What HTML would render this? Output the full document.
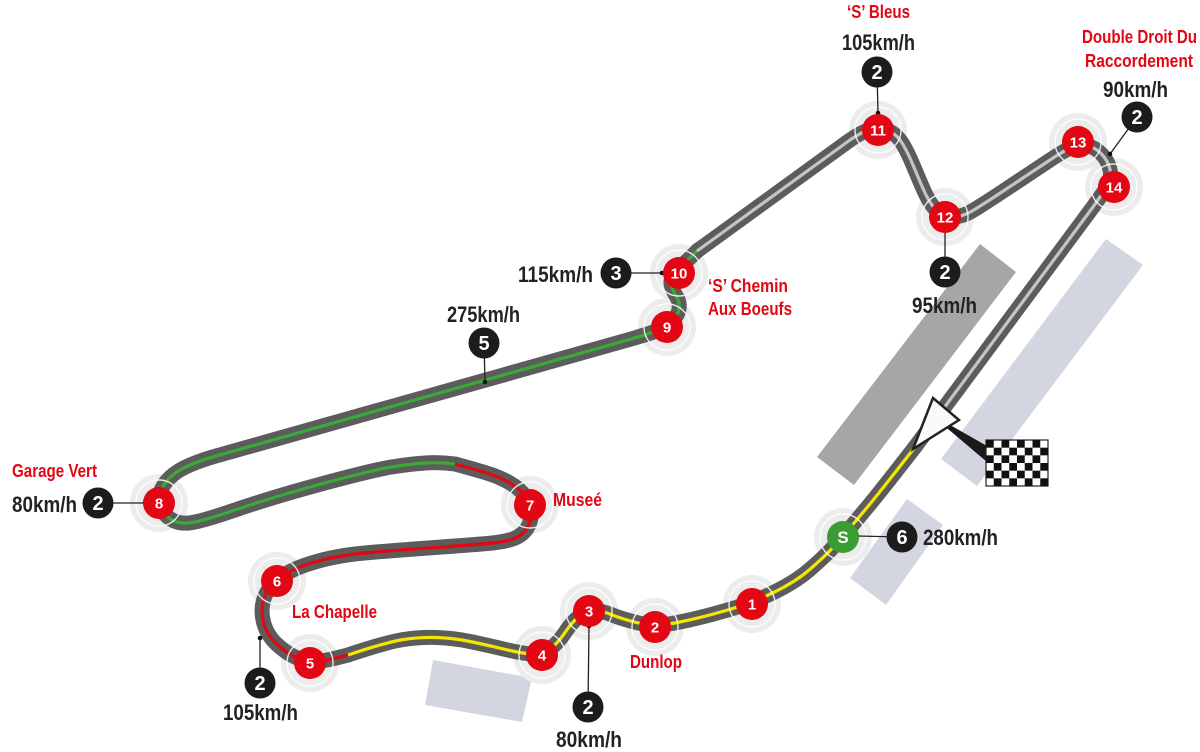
<!DOCTYPE html>
<html><head><meta charset="utf-8"><style>
html,body{margin:0;padding:0;background:#fff;}
svg{display:block;}
.b{font-family:"Liberation Sans Narrow","Liberation Sans",sans-serif;font-weight:bold;fill:#222;font-size:22.5px;}
.r{font-family:"Liberation Sans Narrow","Liberation Sans",sans-serif;font-weight:bold;fill:#e30613;font-size:18px;}
.m{font-family:"Liberation Sans Narrow","Liberation Sans",sans-serif;font-weight:bold;fill:#fff;font-size:15px;text-anchor:middle;}
.k{font-family:"Liberation Sans Narrow","Liberation Sans",sans-serif;font-weight:bold;fill:#fff;font-size:20px;text-anchor:middle;}
</style></head><body>
<svg width="1200" height="752" viewBox="0 0 1200 752" xmlns="http://www.w3.org/2000/svg">
<!-- background blocks -->
<polygon points="980,244 1016,272 854,485 817,457" fill="#a6a6a6"/>
<polygon points="1106,239 1143,265 977,486 941,459" fill="#d3d6e0"/>
<polygon points="907,499 943,525 886,605 850,578" fill="#d3d6e0"/>
<polygon points="433,660 532,678 522,722 425,705" fill="#d3d6e0"/>

<!-- halos -->
<g fill="#ececec">
<circle cx="843" cy="537" r="29"/><circle cx="752" cy="604" r="29"/><circle cx="655" cy="627" r="29"/>
<circle cx="589" cy="611" r="29"/><circle cx="542" cy="655" r="29"/><circle cx="310" cy="663" r="29"/>
<circle cx="277" cy="581" r="29"/><circle cx="530" cy="505" r="29"/><circle cx="159" cy="503" r="29"/>
<circle cx="667" cy="327" r="29"/><circle cx="679" cy="273" r="29"/><circle cx="878" cy="130" r="29"/>
<circle cx="945" cy="217" r="29"/><circle cx="1078" cy="142" r="29"/><circle cx="1114" cy="187" r="29"/>
</g>

<!-- track band -->
<g fill="none" stroke="#5c5c5c" stroke-width="15" stroke-linecap="round" stroke-linejoin="round">
<path id="Y" d="M915,447 Q880,492 867.5,507 Q855,522 847.5,531 Q840,540 831,549.5 Q822,559 808.5,570.5 Q795,582 773.5,592.5 Q752,603 726,610.5 Q700,618 677.5,622.5 Q655,627 638.5,623 Q622,619 611,614.5 Q600,610 592.5,611 Q585,612 578.5,617 Q572,622 565,632.5 Q558,643 550,649 Q542,655 531,654 Q520,653 503.5,649 Q487,645 470,641.5 Q453,638 436.5,637.5 Q420,637 403.5,639.5 Q387,642 348,655"/>
<path d="M348,655 Q322,662 312.5,661.5 Q303,661 294,656.5 Q285,652 276.5,644 Q268,636 264.5,625.5 Q261,615 262.5,605 Q264,595 270,587.5 Q276,580 286.5,573.5 Q297,567 318.5,561 Q340,555 370,552.5 Q400,550 435,547.5 Q470,545 487.5,543.5 Q505,542 514,538.5 Q523,535 527.5,527.5 Q532,520 531,511.5 Q530,503 525,496 Q520,489 510,483 Q500,477 485,472.5 Q470,468 455,464"/>
<path d="M455,464 Q440,462 425,463 Q410,464 391.5,467 Q373,470 323,483.5 Q273,497 236.5,509.5 Q200,522 189,523 Q178,524 170.5,519 Q163,514 160.5,507 Q158,500 160.5,492 Q163,484 170.5,477 Q178,470 190,465 Q202,460 213.5,456.7 L633.5,338.3 Q645,335 655,331.5 Q665,328 671.5,322 Q678,316 679,309 Q680,302 676.5,296.5 Q673,291 671.5,286 Q670,281 673,276 Q676,271 682,265.5 Q688,260 698,250"/>
<path d="M697,251 L850,140 Q866,129 875,128.5 Q884,128 891,132 Q898,136 903,144.5 Q908,153 913,165 Q918,177 923,188.5 Q928,200 933,206.5 Q938,213 944,215.5 Q950,218 958,216.5 Q966,215 975.5,209 Q985,203 995,196.5 L1050,160 Q1065,150 1073.5,146.5 Q1082,143 1090.5,146.5 Q1099,150 1104.5,157.5 Q1110,165 1110.5,173.5 Q1111,182 1105.5,189.5 Q1100,197 1093,207 L915,447"/>
</g>

<!-- centre lines -->
<g fill="none" stroke-width="3.2" stroke-linecap="butt" stroke-linejoin="round">
<path stroke="#f5e600" d="M915,447 Q880,492 867.5,507 Q855,522 847.5,531 Q840,540 831,549.5 Q822,559 808.5,570.5 Q795,582 773.5,592.5 Q752,603 726,610.5 Q700,618 677.5,622.5 Q655,627 638.5,623 Q622,619 611,614.5 Q600,610 592.5,611 Q585,612 578.5,617 Q572,622 565,632.5 Q558,643 550,649 Q542,655 531,654 Q520,653 503.5,649 Q487,645 470,641.5 Q453,638 436.5,637.5 Q420,637 403.5,639.5 Q387,642 348,655"/>
<path stroke="#e30613" d="M348,655 Q322,662 312.5,661.5 Q303,661 294,656.5 Q285,652 276.5,644 Q268,636 264.5,625.5 Q261,615 262.5,605 Q264,595 270,587.5 Q276,580 286.5,573.5 Q297,567 318.5,561 Q340,555 370,552.5 Q400,550 435,547.5 Q470,545 487.5,543.5 Q505,542 514,538.5 Q523,535 527.5,527.5 Q532,520 531,511.5 Q530,503 525,496 Q520,489 510,483 Q500,477 485,472.5 Q470,468 455,464"/>
<path stroke="#3aa935" d="M455,464 Q440,462 425,463 Q410,464 391.5,467 Q373,470 323,483.5 Q273,497 236.5,509.5 Q200,522 189,523 Q178,524 170.5,519 Q163,514 160.5,507 Q158,500 160.5,492 Q163,484 170.5,477 Q178,470 190,465 Q202,460 213.5,456.7 L633.5,338.3 Q645,335 655,331.5 Q665,328 671.5,322 Q678,316 679,309 Q680,302 676.5,296.5 Q673,291 671.5,286 Q670,281 673,276 Q676,271 682,265.5 Q688,260 698,250"/>
<path stroke="#c4c4c4" d="M697,251 L850,140 Q866,129 875,128.5 Q884,128 891,132 Q898,136 903,144.5 Q908,153 913,165 Q918,177 923,188.5 Q928,200 933,206.5 Q938,213 944,215.5 Q950,218 958,216.5 Q966,215 975.5,209 Q985,203 995,196.5 L1050,160 Q1065,150 1073.5,146.5 Q1082,143 1090.5,146.5 Q1099,150 1104.5,157.5 Q1110,165 1110.5,173.5 Q1111,182 1105.5,189.5 Q1100,197 1093,207 L915,447"/>
</g>

<!-- white rings over track -->
<g fill="none" stroke="#fff" stroke-width="1.4" opacity="0.85">
<circle cx="843" cy="537" r="23"/><circle cx="752" cy="604" r="23"/><circle cx="655" cy="627" r="23"/>
<circle cx="589" cy="611" r="23"/><circle cx="542" cy="655" r="23"/><circle cx="310" cy="663" r="23"/>
<circle cx="277" cy="581" r="23"/><circle cx="530" cy="505" r="23"/><circle cx="159" cy="503" r="23"/>
<circle cx="667" cy="327" r="23"/><circle cx="679" cy="273" r="23"/><circle cx="878" cy="130" r="23"/>
<circle cx="945" cy="217" r="23"/><circle cx="1078" cy="142" r="23"/><circle cx="1114" cy="187" r="23"/>
</g>

<!-- start/finish flag -->
<polygon points="936,417 987,446 987,462 941,423" fill="#1a1a1a"/>
<polygon points="933,398 959,420 913,449" fill="#fafafa" stroke="#222" stroke-width="2.5" stroke-linejoin="miter"/>
<g>
<rect x="986" y="440" width="62" height="46" fill="#fff" stroke="#222" stroke-width="1.2"/>
<g fill="#111">
<rect x="986" y="440" width="7.75" height="7.67"/><rect x="1001.5" y="440" width="7.75" height="7.67"/><rect x="1017" y="440" width="7.75" height="7.67"/><rect x="1032.5" y="440" width="7.75" height="7.67"/>
<rect x="993.75" y="447.67" width="7.75" height="7.67"/><rect x="1009.25" y="447.67" width="7.75" height="7.67"/><rect x="1024.75" y="447.67" width="7.75" height="7.67"/><rect x="1040.25" y="447.67" width="7.75" height="7.67"/>
<rect x="986" y="455.33" width="7.75" height="7.67"/><rect x="1001.5" y="455.33" width="7.75" height="7.67"/><rect x="1017" y="455.33" width="7.75" height="7.67"/><rect x="1032.5" y="455.33" width="7.75" height="7.67"/>
<rect x="993.75" y="463" width="7.75" height="7.67"/><rect x="1009.25" y="463" width="7.75" height="7.67"/><rect x="1024.75" y="463" width="7.75" height="7.67"/><rect x="1040.25" y="463" width="7.75" height="7.67"/>
<rect x="986" y="470.67" width="7.75" height="7.67"/><rect x="1001.5" y="470.67" width="7.75" height="7.67"/><rect x="1017" y="470.67" width="7.75" height="7.67"/><rect x="1032.5" y="470.67" width="7.75" height="7.67"/>
<rect x="993.75" y="478.33" width="7.75" height="7.67"/><rect x="1009.25" y="478.33" width="7.75" height="7.67"/><rect x="1024.75" y="478.33" width="7.75" height="7.67"/><rect x="1040.25" y="478.33" width="7.75" height="7.67"/>
</g>
</g>

<!-- connectors -->
<g stroke="#222" stroke-width="1.3">
<line x1="98" y1="503" x2="145" y2="503"/>
<line x1="260" y1="683" x2="260" y2="638"/>
<line x1="588" y1="707" x2="589" y2="626"/>
<line x1="484" y1="343" x2="485" y2="382"/>
<line x1="616" y1="273" x2="662" y2="273"/>
<line x1="877" y1="72" x2="878" y2="113"/>
<line x1="945" y1="230" x2="945" y2="272"/>
<line x1="1137" y1="117" x2="1110" y2="154"/>
<line x1="857" y1="536" x2="902" y2="537"/>
</g>
<g fill="#111">
<circle cx="145" cy="503" r="2.3"/><circle cx="260" cy="638" r="2.3"/><circle cx="589" cy="626" r="2.3"/>
<circle cx="485" cy="382" r="2.3"/><circle cx="662" cy="273" r="2.3"/><circle cx="878" cy="113" r="2.3"/>
<circle cx="945" cy="230" r="2.3"/><circle cx="1110" cy="154" r="2.3"/><circle cx="857" cy="536" r="2.3"/>
</g>

<!-- red corner markers -->
<g fill="#e30613">
<circle cx="752" cy="604" r="16"/><circle cx="655" cy="627" r="16"/>
<circle cx="589" cy="611" r="16"/><circle cx="542" cy="655" r="16"/><circle cx="310" cy="663" r="16"/>
<circle cx="277" cy="581" r="16"/><circle cx="530" cy="505" r="16"/><circle cx="159" cy="503" r="16"/>
<circle cx="667" cy="327" r="16"/><circle cx="679" cy="273" r="16"/><circle cx="878" cy="130" r="16"/>
<circle cx="945" cy="217" r="16"/><circle cx="1078" cy="142" r="16"/><circle cx="1114" cy="187" r="16"/>
</g>
<circle cx="843" cy="537" r="16" fill="#3b9c34"/>
<g class="m">
<text x="843" y="543" style="font-size:17px">S</text>
<text x="752" y="609.5">1</text><text x="655" y="632.5">2</text><text x="589" y="616.5">3</text>
<text x="542" y="660.5">4</text><text x="310" y="668.5">5</text><text x="277" y="586.5">6</text>
<text x="530" y="510.5">7</text><text x="159" y="508.5">8</text><text x="667" y="332.5">9</text>
<text x="679" y="278.5">10</text><text x="878" y="135.5">11</text><text x="945" y="222.5">12</text>
<text x="1078" y="147.5">13</text><text x="1114" y="192.5">14</text>
</g>

<!-- black gear circles -->
<g fill="#1c1c1c">
<circle cx="98" cy="503" r="15.5"/><circle cx="260" cy="683" r="15.5"/><circle cx="588" cy="707" r="15.5"/>
<circle cx="484" cy="343" r="15.5"/><circle cx="616" cy="273" r="15.5"/><circle cx="877" cy="72" r="15.5"/>
<circle cx="945" cy="272" r="15.5"/><circle cx="1137" cy="117" r="15.5"/><circle cx="902" cy="537" r="15.5"/>
</g>
<g class="k">
<text x="98" y="510">2</text><text x="260" y="690">2</text><text x="588" y="714">2</text>
<text x="484" y="350">5</text><text x="616" y="280">3</text><text x="877" y="79">2</text>
<text x="945" y="279">2</text><text x="1137" y="124">2</text><text x="902" y="544">6</text>
</g>

<!-- speed labels -->
<g class="b">
<text x="12" y="512" textLength="65" lengthAdjust="spacingAndGlyphs">80km/h</text>
<text x="223" y="720" textLength="75" lengthAdjust="spacingAndGlyphs">105km/h</text>
<text x="556" y="747" textLength="66" lengthAdjust="spacingAndGlyphs">80km/h</text>
<text x="447" y="322" textLength="73" lengthAdjust="spacingAndGlyphs">275km/h</text>
<text x="518" y="282" textLength="75" lengthAdjust="spacingAndGlyphs">115km/h</text>
<text x="842" y="50" textLength="73" lengthAdjust="spacingAndGlyphs">105km/h</text>
<text x="912" y="313" textLength="65" lengthAdjust="spacingAndGlyphs">95km/h</text>
<text x="1103" y="97" textLength="65" lengthAdjust="spacingAndGlyphs">90km/h</text>
<text x="923" y="545" textLength="75" lengthAdjust="spacingAndGlyphs">280km/h</text>
</g>

<!-- corner names -->
<g class="r">
<text x="847" y="18" textLength="63" lengthAdjust="spacingAndGlyphs">&#8216;S&#8217; Bleus</text>
<text x="1082" y="43" textLength="115" lengthAdjust="spacingAndGlyphs">Double Droit Du</text>
<text x="1085" y="67" textLength="108" lengthAdjust="spacingAndGlyphs">Raccordement</text>
<text x="12" y="477" textLength="85" lengthAdjust="spacingAndGlyphs">Garage Vert</text>
<text x="553" y="506" textLength="49" lengthAdjust="spacingAndGlyphs">Museé</text>
<text x="292" y="618" textLength="85" lengthAdjust="spacingAndGlyphs">La Chapelle</text>
<text x="630" y="668" textLength="52" lengthAdjust="spacingAndGlyphs">Dunlop</text>
<text x="708" y="292" textLength="80" lengthAdjust="spacingAndGlyphs">&#8216;S&#8217; Chemin</text>
<text x="708" y="315" textLength="84" lengthAdjust="spacingAndGlyphs">Aux Boeufs</text>
</g>
</svg>
</body></html>
